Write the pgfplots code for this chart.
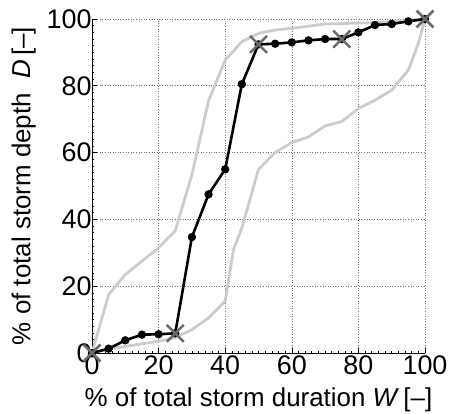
\documentclass[border=0pt]{standalone}
\usepackage{fontspec}
\setmainfont{Liberation Sans}
\usepackage{pgfplots}
\pgfplotsset{compat=1.18}
\definecolor{envgray}{gray}{0.80}
\definecolor{crossgray}{gray}{0.42}

\begin{document}
\begin{tikzpicture}
\begin{axis}[
  scale only axis, width=333bp, height=334bp,
  xmin=0, xmax=100, ymin=0, ymax=100,
  xtick={0,20,...,100}, ytick={0,20,...,100},
  minor tick num=9,
  axis x line*=bottom, axis y line*=left,
  axis line style={black, line width=0.7pt},
  tick align=inside,
  major tick length=5bp, minor tick length=2.5bp,
  tick style={black, line width=0.6pt},
  grid=major, grid style={black!55, line width=0.6pt, dotted},
  /pgf/number format/assume math mode=true,
  tick label style={font=\fontsize{27}{30}\selectfont},
  xticklabel style={yshift=1bp},
  yticklabel style={xshift=3bp},
  label style={font=\fontsize{26}{30}\selectfont},
  xlabel={\% of total storm duration \textit{W}\,[–]},
  ylabel={\% of total storm depth \ \textit{D}\,[–]},
  xlabel style={yshift=-6bp},
  ylabel style={yshift=4bp},
  clip=false,
]
% upper envelope
\addplot[envgray, line width=2.8bp] coordinates {
  (0,0)(5,17.5)(10,23.5)(20,31.5)(25,36.6)(30,53.4)(35,75.5)(40,87.7)
  (45,93.2)(50,95.7)(55,96.7)(60,97.2)(70,98.5)(85,98.9)(95,99.5)(100,100)};
% lower envelope
\addplot[envgray, line width=2.8bp] coordinates {
  (0,0)(5,1.2)(20,3.5)(25,4.6)(30,7)(35,10.5)(40,15.5)(42.5,31)(45,37.4)
  (50,55)(55,60)(60,63)(65,64.7)(70,68)(75,69.3)(80,73.2)(85,75.7)
  (90,78.7)(95,84.7)(98,92.7)(100,100)};
% storm mass curve
\addplot[black, line width=2.6bp, mark=*, mark size=2.8bp] coordinates {
  (0,0)(5,1.3)(10,3.8)(15,5.5)(20,5.6)(25,5.9)(30,34.7)(35,47.5)(40,55)
  (45,80.5)(50,92.4)(55,92.6)(60,93)(65,93.6)(70,94)(75,94)(80,96)
  (85,98.2)(90,98.5)(95,99.3)(100,100)};
% quartile markers
\addplot[crossgray, only marks, mark=x, mark size=12bp,
  mark options={line width=2.5bp}] coordinates {
  (0,0)(25,5.9)(50,92.4)(75,94)(100,100)};
\end{axis}
\pgfresetboundingbox
\path[use as bounding box] (-92bp,-61bp) rectangle (360bp,353bp);
\end{tikzpicture}
\end{document}
